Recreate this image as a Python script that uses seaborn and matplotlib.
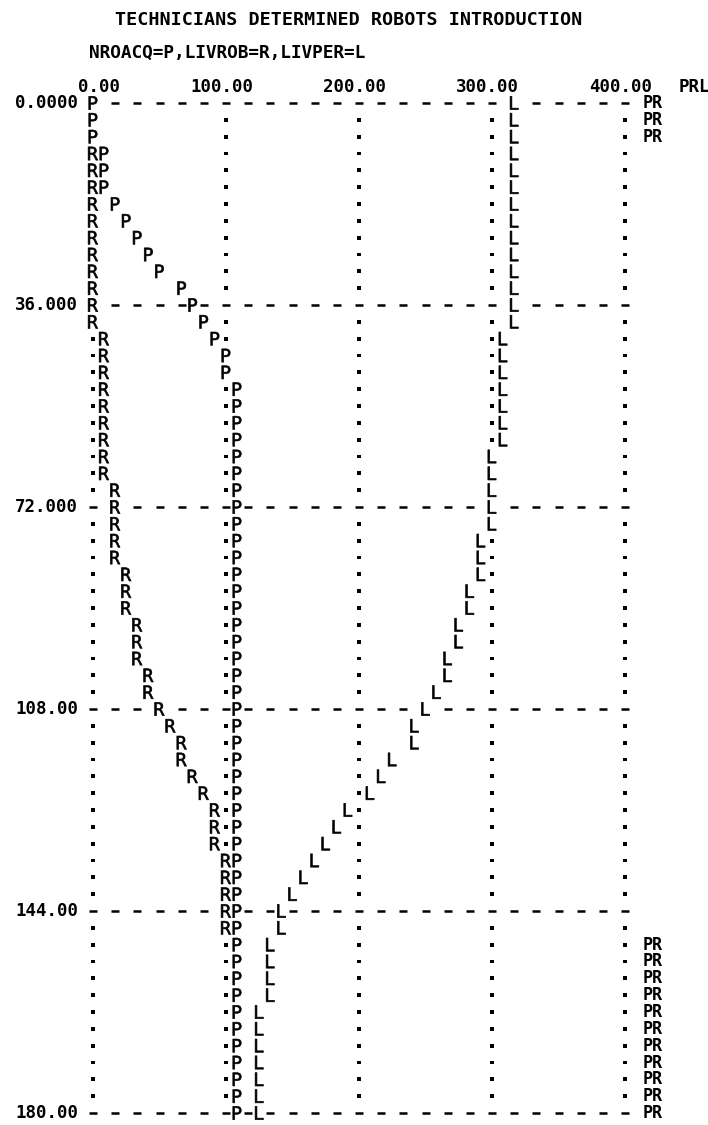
import matplotlib
matplotlib.use("Agg")
import matplotlib.pyplot as plt
import seaborn as sns
import pandas as pd
import numpy as np

# printer-plot of a DYNAMO run: one row every 3 time units
time = np.arange(0, 181, 3)

nroacq = [0, 0, 0, 8.3, 8.3, 8.3, 16.7, 25.0, 33.3, 41.7,
          50.0, 66.7, 75.0, 83.3, 91.7, 100.0, 100.0, 108.3, 108.3, 108.3,
          108.3, 108.3, 108.3, 108.3, 108.3, 108.3, 108.3, 108.3, 108.3, 108.3,
          108.3, 108.3, 108.3, 108.3, 108.3, 108.3, 108.3, 108.3, 108.3, 108.3,
          108.3, 108.3, 108.3, 108.3, 108.3, 108.3, 108.3, 108.3, 108.3, 108.3,
          108.3, 108.3, 108.3, 108.3, 108.3, 108.3, 108.3, 108.3, 108.3, 108.3,
          108.3]
livrob = [0, 0, 0, 0, 0, 0, 0, 0, 0, 0,
          0, 0, 0, 0, 8.3, 8.3, 8.3, 8.3, 8.3, 8.3,
          8.3, 8.3, 8.3, 16.7, 16.7, 16.7, 16.7, 16.7, 25.0, 25.0,
          25.0, 33.3, 33.3, 33.3, 41.7, 41.7, 50.0, 58.3, 66.7, 66.7,
          75.0, 83.3, 91.7, 91.7, 91.7, 100.0, 100.0, 100.0, 100.0, 100.0,
          108.3, 108.3, 108.3, 108.3, 108.3, 108.3, 108.3, 108.3, 108.3, 108.3,
          108.3]
livper = [316.7, 316.7, 316.7, 316.7, 316.7, 316.7, 316.7, 316.7, 316.7, 316.7,
          316.7, 316.7, 316.7, 316.7, 308.3, 308.3, 308.3, 308.3, 308.3, 308.3,
          308.3, 300.0, 300.0, 300.0, 300.0, 300.0, 291.7, 291.7, 291.7, 283.3,
          283.3, 275.0, 275.0, 266.7, 266.7, 258.3, 250.0, 241.7, 241.7, 225.0,
          216.7, 208.3, 191.7, 183.3, 175.0, 166.7, 158.3, 150.0, 141.7, 141.7,
          133.3, 133.3, 133.3, 133.3, 125.0, 125.0, 125.0, 125.0, 125.0, 125.0,
          125.0]

series = [("P", nroacq), ("R", livrob), ("L", livper)]
xticks = [0, 100, 200, 300, 400]
xlabels = ["0.00", "100.00", "200.00", "300.00", "400.00"]
yticks = [0, 36, 72, 108, 144, 180]
ylabels = ["0.0000", "36.000", "72.000", "108.00", "144.00", "180.00"]
title = "TECHNICIANS DETERMINED ROBOTS INTRODUCTION"
subtitle = "NROACQ=P,LIVROB=R,LIVPER=L"

sns.set_style("white")
plt.rcParams["font.family"] = ["DejaVu Sans Mono"]
plt.rcParams["mathtext.fontset"] = "dejavusans"
plt.rcParams["text.color"] = "black"

CW = 400 / 48   # one printer column
RH = 3          # one printer row

df = pd.concat([pd.DataFrame({"series": s, "time": time, "value": v}) for s, v in series],
               ignore_index=True)
df["col"] = (df["value"] / CW).round().astype(int)
df["row"] = (df["time"] / RH).round().astype(int)
shown = df.drop_duplicates(["row", "col"], keep="first")
clash = df[df.duplicated(["row", "col"], keep=False)].groupby("row")["series"].apply("".join)
busy = set(zip(shown["row"], shown["col"]))

# printer grid: dots on the verticals, dashes on the horizontals
dots = pd.DataFrame([(c * CW, r * RH) for c in (0, 12, 24, 36, 48) for r in range(61)
                     if r % 12 and (r, c) not in busy], columns=["x", "t"])
dashes = pd.DataFrame([(c * CW, r * RH) for r in range(0, 61, 12) for c in range(0, 49, 2)
                       if (r, c) not in busy], columns=["x", "t"])

fig = plt.figure(figsize=(7.08, 11.25), dpi=100)
ax = fig.add_axes([93 / 708, 12 / 1125, 532 / 708, 1010 / 1125])
ax.set_xlim(0, 400)
ax.set_ylim(180, 0)
ax.axis("off")

sns.scatterplot(data=dots, x="x", y="t", marker="s", s=7, color="black",
                edgecolor="none", ax=ax, clip_on=False, legend=False)
ax.scatter(dashes["x"], dashes["t"], marker="_", s=28, linewidths=1.8,
           color="black", clip_on=False)

marks = {s: r"$\mathtt{%s}$" % s for s, _ in series}
sns.scatterplot(data=shown, x="value", y="time", style="series", markers=marks,
                color="black", s=92, edgecolor="black", linewidth=0.45,
                legend=False, ax=ax, clip_on=False)
ax.collections[-1].set_snap(False)

fs = 12.5
for v, lab in zip(xticks, xlabels):
    ax.text(v + 20.3, -2.8, lab, ha="right", va="center", fontsize=fs,
            fontweight="bold", clip_on=False)
ax.text(440, -2.8, "PRL", ha="left", va="center", fontsize=fs,
        fontweight="bold", clip_on=False)
for t, lab in zip(yticks, ylabels):
    ax.text(-11, t, lab, ha="right", va="center", fontsize=fs,
            fontweight="bold", clip_on=False)
for r, txt in clash.items():
    ax.text(413, r * RH, txt, ha="left", va="center", fontsize=12,
            fontweight="bold", clip_on=False)

fig.text(115 / 708, 1 - 20 / 1125, title, ha="left", va="center", fontsize=13.2,
         fontweight="bold")
fig.text(89 / 708, 1 - 53 / 1125, subtitle, ha="left", va="center", fontsize=12.8,
         fontweight="bold")

fig.savefig("out.png", dpi=100, facecolor="white")
